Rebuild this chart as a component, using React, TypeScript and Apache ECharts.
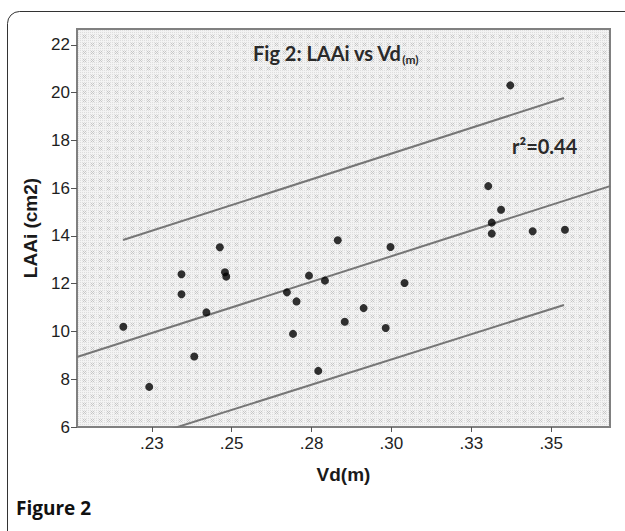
import { useEffect, useRef } from 'react';
import * as echarts from 'echarts';

// Axis extents (data units)
const X_MIN = 0.2016;
const X_MAX = 0.3684;
const Y_MIN = 6;
const Y_MAX = 22.67;

// Tick values and labels
const xTickValues = [0.225, 0.25, 0.275, 0.3, 0.325, 0.35];
const xTickLabels = ['.23', '.25', '.28', '.30', '.33', '.35'];
const yTickValues = [6, 8, 10, 12, 14, 16, 18, 20, 22];

// Scatter data: [Vd(m), LAAi (cm2)]
const vdValues = [
  0.2161, 0.2242, 0.2343, 0.2343, 0.2383, 0.2421, 0.2463, 0.2479, 0.2483,
  0.2673, 0.2703, 0.2692, 0.2742, 0.2792, 0.2832, 0.2771, 0.2854, 0.2913,
  0.2997, 0.2982, 0.3041, 0.3303, 0.3343, 0.3314, 0.3314, 0.3442, 0.3543,
  0.3372,
];
const laaiValues = [
  10.2, 7.68, 12.4, 11.56, 8.95, 10.8, 13.53, 12.48, 12.3,
  11.64, 11.26, 9.9, 12.34, 12.13, 13.82, 8.35, 10.41, 10.98,
  13.54, 10.15, 12.03, 16.09, 15.1, 14.56, 14.1, 14.2, 14.26,
  20.31,
];

// Fit line and prediction interval endpoints
const fitLine = [
  [X_MIN, 8.93],
  [X_MAX, 16.09],
];
const upperBand = [
  [0.216, 13.83],
  [0.354, 19.78],
];
const lowerBand = [
  [0.216, 5.28],
  [0.354, 11.11],
];

function makePattern(): HTMLCanvasElement {
  const c = document.createElement('canvas');
  c.width = 8;
  c.height = 8;
  const ctx = c.getContext('2d')!;
  ctx.fillStyle = '#f3f3f3';
  ctx.fillRect(0, 0, 8, 8);
  ctx.fillStyle = '#dedede';
  for (let x = 0; x < 8; x += 2) {
    for (let y = 0; y < 8; y += 2) {
      ctx.fillRect(x, y, 1, 1);
    }
  }
  ctx.fillStyle = '#c6c6c6';
  ctx.fillRect(3, 3, 1, 1);
  ctx.fillRect(5, 3, 1, 1);
  ctx.fillRect(4, 4, 1, 1);
  ctx.fillRect(3, 5, 1, 1);
  ctx.fillRect(5, 5, 1, 1);
  return c;
}

function nearestLabel(v: number): string {
  let best = 0;
  let bd = Infinity;
  xTickValues.forEach((t, i) => {
    const d = Math.abs(t - v);
    if (d < bd) {
      bd = d;
      best = i;
    }
  });
  return xTickLabels[best];
}

export default function App() {
  const ref = useRef<HTMLDivElement>(null);

  useEffect(() => {
    document.body.style.margin = '0';
    if (!ref.current) return;
    const chart = echarts.init(ref.current, null, { renderer: 'svg' });
    const canvas = makePattern();
    const points = vdValues.map((v, i) => [v, laaiValues[i]]);
    const lineStyle = { color: '#767676', width: 2 };

    chart.setOption({
      animation: false,
      backgroundColor: '#ffffff',
      grid: {
        left: 77,
        right: 15,
        top: 29,
        bottom: 104,
        show: true,
        backgroundColor: {
          image: canvas,
          repeat: 'repeat',
          imageWidth: 8,
          imageHeight: 8,
        },
        borderColor: '#808080',
        borderWidth: 2,
      },
      xAxis: {
        type: 'value',
        min: X_MIN,
        max: X_MAX,
        name: 'Vd(m)',
        nameLocation: 'middle',
        nameGap: 38,
        nameTextStyle: {
          fontFamily: 'Liberation Sans',
          fontWeight: 'bold',
          fontSize: 19,
          color: '#1a1a1a',
        },
        axisLine: { show: false },
        splitLine: { show: false },
        axisTick: {
          show: true,
          length: 5,
          lineStyle: { color: '#555', width: 1 },
          customValues: xTickValues,
        },
        axisLabel: {
          customValues: xTickValues,
          margin: 8,
          fontFamily: 'Liberation Sans',
          fontSize: 17,
          color: '#1e1e1e',
          formatter: (v: number) => nearestLabel(v),
        },
      },
      yAxis: {
        type: 'value',
        min: Y_MIN,
        max: Y_MAX,
        name: 'LAAi (cm2)',
        nameLocation: 'middle',
        nameGap: 33,
        nameTextStyle: {
          fontFamily: 'Liberation Sans',
          fontWeight: 'bold',
          fontSize: 19,
          color: '#1a1a1a',
        },
        axisLine: { show: false },
        splitLine: { show: false },
        axisTick: {
          show: true,
          length: 6,
          lineStyle: { color: '#555', width: 1 },
          customValues: yTickValues,
        },
        axisLabel: {
          customValues: yTickValues,
          margin: 7,
          fontFamily: 'Liberation Sans',
          fontSize: 17,
          color: '#1e1e1e',
        },
      },
      series: [
        {
          type: 'line',
          data: fitLine,
          symbol: 'none',
          lineStyle,
          clip: true,
          silent: true,
        },
        {
          type: 'line',
          data: upperBand,
          symbol: 'none',
          lineStyle,
          clip: true,
          silent: true,
        },
        {
          type: 'line',
          data: lowerBand,
          symbol: 'none',
          lineStyle,
          clip: true,
          silent: true,
        },
        {
          type: 'scatter',
          data: points,
          symbol: 'circle',
          symbolSize: 8,
          itemStyle: { color: '#000' },
          z: 5,
        },
      ],
      graphic: [
        {
          type: 'rect',
          shape: { x: 7.5, y: 11.5, width: 700, height: 600, r: 12 },
          style: { fill: 'none', stroke: '#333', lineWidth: 1 },
          silent: true,
        },
        {
          type: 'text',
          left: 253,
          top: 43,
          z: 10,
          style: {
            text: '{a|Fig 2: LAAi vs Vd}{b|(m)}',
            rich: {
              a: {
                fontFamily: 'Lato',
                fontWeight: 'bold',
                fontSize: 20,
                lineHeight: 24,
                fill: '#2a2a2a',
              },
              b: {
                fontFamily: 'Lato',
                fontWeight: 'bold',
                fontSize: 12,
                lineHeight: 13,
                verticalAlign: 'bottom',
                fill: '#2a2a2a',
              },
            },
          },
        },
        {
          type: 'text',
          left: 512,
          top: 136,
          z: 10,
          style: {
            text: 'r²=0.44',
            fontFamily: 'Lato',
            fontWeight: 'bold',
            fontSize: 20,
            fill: '#2a2a2a',
          },
        },
        {
          type: 'text',
          left: 16,
          top: 498,
          style: {
            text: 'Figure 2',
            fontFamily: 'Open Sans',
            fontWeight: 'bold',
            fontSize: 19,
            fill: '#111',
          },
        },
      ],
    });

    return () => chart.dispose();
  }, []);

  return <div ref={ref} style={{ width: 625, height: 531 }} />;
}
